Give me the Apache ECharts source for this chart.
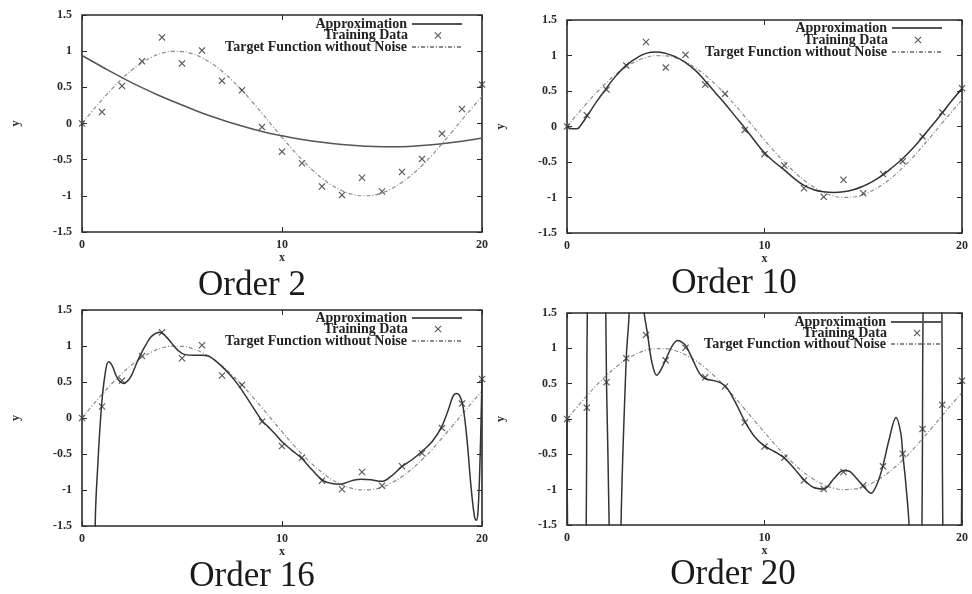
<!DOCTYPE html>
<html>
<head>
<meta charset="utf-8">
<script src="https://cdn.jsdelivr.net/npm/echarts@6/dist/echarts.min.js"></script>
<style>
html,body{margin:0;padding:0;background:#fff;}
#chart{width:972px;height:594px;}
</style>
</head>
<body>
<div id="chart"></div>
<script>
// ---- data ----
const panelTitles = ['Order 2', 'Order 10', 'Order 16', 'Order 20'];
const xTicks = [0, 10, 20];
const yTicks = [-1.5, -1, -0.5, 0, 0.5, 1, 1.5];
const legendNames = ['Approximation', 'Training Data', 'Target Function without Noise'];

const trainingX = [0, 1, 2, 3, 4, 5, 6, 7, 8, 9, 10, 11, 12, 13, 14, 15, 16, 17, 18, 19, 20];
const trainingY = [0.0, 0.16, 0.52, 0.86, 1.19, 0.83, 1.01, 0.59, 0.46, -0.05, -0.39, -0.55, -0.87, -0.99, -0.75, -0.94, -0.67, -0.49, -0.14, 0.20, 0.54];

const targetX = [0, 0.5, 1, 1.5, 2, 2.5, 3, 3.5, 4, 4.5, 5, 5.5, 6, 6.5, 7, 7.5, 8, 8.5, 9, 9.5, 10, 10.5, 11, 11.5, 12, 12.5, 13, 13.5, 14, 14.5, 15, 15.5, 16, 16.5, 17, 17.5, 18, 18.5, 19, 19.5, 20];
const targetY = [0, 0.166, 0.327, 0.479, 0.618, 0.740, 0.841, 0.919, 0.972, 0.997, 0.995, 0.966, 0.909, 0.827, 0.723, 0.598, 0.457, 0.304, 0.141, -0.025, -0.190, -0.351, -0.501, -0.638, -0.757, -0.855, -0.929, -0.978, -0.999, -0.993, -0.959, -0.898, -0.813, -0.706, -0.580, -0.438, -0.279, -0.116, 0.050, 0.215, 0.374];

const order2X = [0, 1, 2, 3, 4, 5, 6, 7, 8, 9, 10, 11, 12, 13, 14, 15, 16, 17, 18, 19, 20];
const order2Y = [0.94, 0.785, 0.635, 0.495, 0.37, 0.255, 0.145, 0.05, -0.035, -0.11, -0.17, -0.22, -0.26, -0.29, -0.31, -0.32, -0.32, -0.305, -0.28, -0.245, -0.20];

const order10X = [0, 0.25, 0.5, 0.75, 1, 1.5, 2, 2.5, 3, 3.5, 4, 4.5, 5, 5.5, 6, 6.5, 7, 7.5, 8, 8.5, 9, 9.5, 10, 10.5, 11, 11.5, 12, 12.5, 13, 13.5, 14, 14.5, 15, 15.5, 16, 16.5, 17, 17.5, 18, 18.5, 19, 19.5, 20];
const order10Y = [0, -0.03, -0.03, 0.04, 0.14, 0.35, 0.54, 0.72, 0.86, 0.96, 1.03, 1.05, 1.03, 0.98, 0.90, 0.79, 0.64, 0.48, 0.32, 0.15, -0.02, -0.20, -0.37, -0.50, -0.61, -0.73, -0.83, -0.89, -0.92, -0.93, -0.92, -0.89, -0.84, -0.77, -0.68, -0.57, -0.45, -0.31, -0.15, 0.02, 0.19, 0.37, 0.53];

const order16X = [0, 0.66, 0.8, 0.98, 1.15, 1.33, 1.5, 1.66, 1.85, 2.07, 2.3, 2.49, 2.7, 2.91, 3.2, 3.5, 3.9, 4.2, 4.48, 4.8, 5.15, 5.6, 6.0, 6.32, 6.65, 6.98, 7.4, 7.81, 8.2, 8.48, 8.98, 9.3, 9.65, 10, 10.5, 10.98, 11.5, 12.06, 12.5, 12.89, 13.5, 13.97, 14.5, 14.97, 15.5, 15.97, 16.5, 16.97, 17.5, 17.97, 18.3, 18.55, 18.72, 18.9, 19.05, 19.25, 19.45, 19.63, 19.72, 19.8, 19.9, 20];
const order16Y = [-20, -1.5, -0.6, 0.18, 0.6, 0.78, 0.73, 0.62, 0.52, 0.48, 0.52, 0.60, 0.74, 0.87, 1.02, 1.14, 1.19, 1.13, 1.04, 0.94, 0.88, 0.87, 0.87, 0.86, 0.80, 0.72, 0.60, 0.46, 0.30, 0.18, -0.03, -0.12, -0.22, -0.33, -0.45, -0.56, -0.72, -0.87, -0.91, -0.92, -0.87, -0.85, -0.86, -0.88, -0.80, -0.68, -0.58, -0.47, -0.33, -0.13, 0.10, 0.30, 0.34, 0.30, 0.16, -0.30, -0.95, -1.38, -1.42, -1.30, -0.60, 0.54];

const order20X = [0, 0.03, 0.5, 0.97, 1, 1.03, 1.5, 1.96, 2, 2.14, 2.4, 2.73, 3, 3.16, 3.5, 3.88, 4.08, 4.3, 4.54, 4.8, 5.0, 5.3, 5.6, 5.85, 6.05, 6.4, 6.7, 7.0, 7.5, 8.0, 8.5, 9.0, 9.5, 10.0, 10.5, 11.0, 11.5, 12.0, 12.5, 13.0, 13.5, 14.0, 14.3, 14.6, 15.0, 15.4, 15.7, 16.0, 16.3, 16.66, 16.9, 17.0, 17.15, 17.33, 17.6, 17.97, 18, 18.03, 18.5, 18.98, 19, 19.03, 19.5, 19.97, 20];
const order20Y = [0, -1.6, -10, -1.6, 0.16, 1.6, 10, 1.6, 0.52, -1.6, -10, -1.6, 0.86, 1.6, 10, 1.6, 1.20, 0.80, 0.62, 0.72, 0.84, 1.02, 1.11, 1.08, 1.02, 0.82, 0.65, 0.57, 0.54, 0.47, 0.25, -0.03, -0.25, -0.38, -0.46, -0.55, -0.70, -0.86, -0.97, -0.99, -0.85, -0.73, -0.74, -0.82, -0.95, -1.05, -0.92, -0.66, -0.30, 0.02, -0.20, -0.49, -0.90, -1.6, -10, -1.6, -0.14, 1.6, 10, 1.6, 0.20, -1.6, -10, -1.6, 0.54];

// ---- layout ----
const grids = [
  {left: 82, top: 15, width: 400, height: 217},
  {left: 567, top: 20, width: 395, height: 213},
  {left: 82, top: 310, width: 400, height: 216},
  {left: 567, top: 313, width: 395, height: 212}
];
const titlePos = [[252, 286], [734, 284], [252, 577], [733, 575]];
const legendRight = [509, 29, 509, 30];
const legendRows = [[24, 35.5, 47], [28, 40, 52], [318, 329, 341], [322, 333, 344]];
const smoothing = [true, true, 0.4, 0.35];

const approxX = [order2X, order10X, order16X, order20X];
const approxY = [order2Y, order10Y, order16Y, order20Y];

function zip(xs, ys) { return xs.map((x, i) => [x, ys[i]]); }

const serif = '"Liberation Serif", "DejaVu Serif", serif';
const ink = '#2a2a2a';
const xMarker = 'path://M0,1.2L1.2,0L5,3.8L8.8,0L10,1.2L6.2,5L10,8.8L8.8,10L5,6.2L1.2,10L0,8.8L3.8,5Z';
// legend icon: same cross, centred in a 50x10 box (degenerate end points set the box)
const xLegendIcon = 'path://M0,5L0.01,5L0,5.01Z M50,5L49.99,5L50,5.01Z M21.5,2.3L22.3,1.5L25,4.2L27.7,1.5L28.5,2.3L25.8,5L28.5,7.7L27.7,8.5L25,5.8L22.3,8.5L21.5,7.7L24.2,5Z';

const option = {
  backgroundColor: '#ffffff',
  animation: false,
  grid: [], xAxis: [], yAxis: [], series: [], legend: [], graphic: []
};

grids.forEach((g, i) => {
  option.grid.push(Object.assign({show: true, borderColor: ink, borderWidth: 1.6, backgroundColor: 'transparent'}, g));
  const labelStyle = {fontFamily: serif, fontWeight: 'bold', fontSize: 12, color: ink};
  const tick = {inside: true, length: 5, lineStyle: {color: ink, width: 1}};
  // bottom x axis (labelled)
  option.xAxis.push({
    type: 'value', gridIndex: i, min: xTicks[0], max: xTicks[xTicks.length - 1], interval: 10,
    position: 'bottom', name: 'x', nameLocation: 'middle', nameGap: 19,
    nameTextStyle: {fontFamily: serif, fontWeight: 'bold', fontSize: 12, color: ink},
    axisLine: {show: false, onZero: false}, splitLine: {show: false},
    axisTick: tick,
    axisLabel: Object.assign({margin: 7, formatter: v => xTicks.indexOf(v) >= 0 ? String(v) : ''}, labelStyle)
  });
  // top x axis (ticks only)
  option.xAxis.push({
    type: 'value', gridIndex: i, min: 0, max: 20, interval: 10, position: 'top',
    axisLine: {show: false, onZero: false}, splitLine: {show: false},
    axisTick: tick, axisLabel: {show: false}
  });
  // left y axis (labelled)
  option.yAxis.push({
    type: 'value', gridIndex: i, min: yTicks[0], max: yTicks[yTicks.length - 1], interval: 0.5,
    position: 'left', name: 'y', nameLocation: 'middle', nameGap: 60, nameRotate: 90,
    nameTextStyle: {fontFamily: serif, fontWeight: 'bold', fontSize: 12, color: ink},
    axisLine: {show: false, onZero: false}, splitLine: {show: false},
    axisTick: tick,
    axisLabel: Object.assign({margin: 10, formatter: v => String(v)}, labelStyle)
  });
  // right y axis (ticks only)
  option.yAxis.push({
    type: 'value', gridIndex: i, min: -1.5, max: 1.5, interval: 0.5, position: 'right',
    axisLine: {show: false, onZero: false}, splitLine: {show: false},
    axisTick: tick, axisLabel: {show: false}
  });

  const xi = i * 2, yi = i * 2;
  option.series.push({
    name: legendNames[2], type: 'line', xAxisIndex: xi, yAxisIndex: yi,
    data: zip(targetX, targetY), smooth: true, symbol: 'none', z: 2,
    itemStyle: {color: '#8c8c8c'},
    lineStyle: {color: '#8c8c8c', width: 1.2, type: [4, 2, 1, 2]}
  });
  option.series.push({
    name: legendNames[0], type: 'line', xAxisIndex: xi, yAxisIndex: yi,
    data: zip(approxX[i], approxY[i]), smooth: smoothing[i], symbol: 'none', z: 3,
    clip: true, itemStyle: {color: '#333333'},
    lineStyle: {color: i === 0 ? '#555555' : '#333333', width: 1.5}
  });
  option.series.push({
    name: legendNames[1], type: 'scatter', xAxisIndex: xi, yAxisIndex: yi,
    data: zip(trainingX, trainingY), symbol: xMarker, symbolSize: 7, z: 4,
    itemStyle: {color: '#333333'}
  });

  legendNames.forEach((nm, k) => {
    const isScatter = k === 1;
    option.legend.push({
      data: [isScatter ? {name: nm, icon: xLegendIcon} : {name: nm}],
      right: legendRight[i], top: legendRows[i][k] - 7, orient: 'horizontal',
      align: 'right', itemWidth: 50, itemHeight: 10, padding: 0, selectedMode: false,
      itemGap: 0,
      itemStyle: isScatter ? {color: '#333333', borderWidth: 0} : {color: 'rgba(0,0,0,0)', borderWidth: 0, opacity: 0},
      textStyle: {fontFamily: serif, fontWeight: 'bold', fontSize: 14, color: '#222'}
    });
  });

  option.graphic.push({
    type: 'text', x: titlePos[i][0], y: titlePos[i][1],
    style: {text: panelTitles[i], font: '35px ' + serif, fill: '#1a1a1a', align: 'center', verticalAlign: 'middle'}
  });
});

const chart = echarts.init(document.getElementById('chart'), null, {renderer: 'canvas'});
chart.setOption(option);
</script>
</body>
</html>
